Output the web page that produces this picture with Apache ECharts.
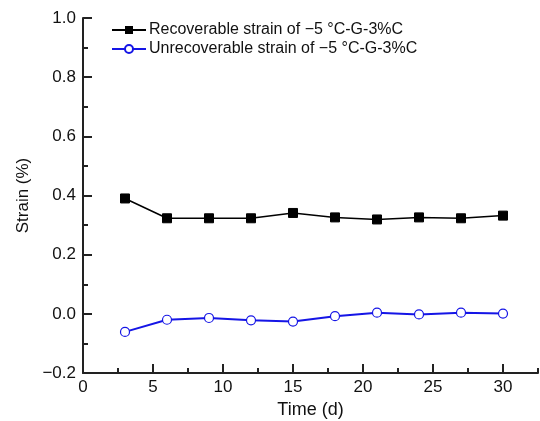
<!DOCTYPE html>
<html>
<head>
<meta charset="utf-8">
<script src="https://cdn.jsdelivr.net/npm/echarts@6/dist/echarts.min.js"></script>
<style>html,body{margin:0;padding:0;background:#fff}#c{width:540px;height:421px}</style>
</head>
<body>
<div id="c"></div>
<script>
const days = [3, 6, 9, 12, 15, 18, 21, 24, 27, 30];
const recoverable = [0.390, 0.323, 0.323, 0.323, 0.341, 0.326, 0.319, 0.326, 0.323, 0.332];
const unrecoverable = [-0.061, -0.020, -0.014, -0.022, -0.026, -0.008, 0.004, -0.002, 0.004, 0.001];
const xTickLabels = [0, 5, 10, 15, 20, 25, 30];
const seriesNames = ['Recoverable strain of \u22125 \u00B0C-G-3%C', 'Unrecoverable strain of \u22125 \u00B0C-G-3%C'];

const FONT = 'Liberation Sans, Arial, sans-serif';
const chart = echarts.init(document.getElementById('c'));
const fmtNum = v => {
  const s = Number(v).toFixed(1);
  return v < 0 ? '\u2212' + s.slice(1) : s;
};
chart.setOption({
  animation: false,
  grid: { left: 83, top: 18, right: 2, bottom: 48, containLabel: false, outerBoundsMode: 'none' },
  legend: {
    left: 106, top: 17, orient: 'vertical', itemGap: 3,
    itemWidth: 34, itemHeight: 10,
    textStyle: { fontFamily: FONT, fontSize: 16, color: '#111', padding: [0, 0, 0, -2] },
    data: seriesNames
  },
  xAxis: [{
    type: 'value', min: 0, max: 32.5, position: 'bottom',
    axisLine: { onZero: false, lineStyle: { color: '#222', width: 2 } },
    axisTick: { inside: true, length: 9, lineStyle: { color: '#222', width: 2 }, customValues: xTickLabels },
    axisLabel: { customValues: xTickLabels, fontFamily: FONT, fontSize: 17, color: '#111', margin: 6 },
    splitLine: { show: false },
    name: 'Time (d)', nameLocation: 'middle', nameGap: 28,
    nameTextStyle: { fontFamily: FONT, fontSize: 18, color: '#111' }
  }, {
    type: 'value', min: 0, max: 32.5, interval: 2.5, position: 'bottom',
    axisLine: { show: false, onZero: false },
    axisTick: { inside: true, length: 5, lineStyle: { color: '#222', width: 2 } },
    axisLabel: { show: false },
    splitLine: { show: false }
  }],
  yAxis: {
    type: 'value', min: -0.2, max: 1.0, interval: 0.2,
    axisLine: { show: true, onZero: false, lineStyle: { color: '#222', width: 2 } },
    axisTick: { show: true, inside: true, length: 9, lineStyle: { color: '#222', width: 2 } },
    minorTick: { show: true, splitNumber: 2, length: 5, lineStyle: { color: '#222', width: 2 } },
    axisLabel: { formatter: fmtNum, fontFamily: FONT, fontSize: 17, color: '#111', margin: 7 },
    splitLine: { show: false },
    name: 'Strain (%)', nameLocation: 'middle', nameGap: 41, nameRotate: 90,
    nameTextStyle: { fontFamily: FONT, fontSize: 17, color: '#111' }
  },
  series: [{
    name: seriesNames[0], type: 'line', xAxisIndex: 0,
    data: days.map((d, i) => [d, recoverable[i]]),
    symbol: 'rect', symbolSize: 9,
    lineStyle: { color: '#000', width: 1.5 },
    itemStyle: { color: '#000', borderColor: '#000' }
  }, {
    name: seriesNames[1], type: 'line', xAxisIndex: 0,
    data: days.map((d, i) => [d, unrecoverable[i]]),
    symbol: 'circle', symbolSize: 9,
    lineStyle: { color: '#1515e6', width: 2 },
    itemStyle: { color: '#fff', borderColor: '#1515e6', borderWidth: 1.2 }
  }]
});
</script>
</body>
</html>
